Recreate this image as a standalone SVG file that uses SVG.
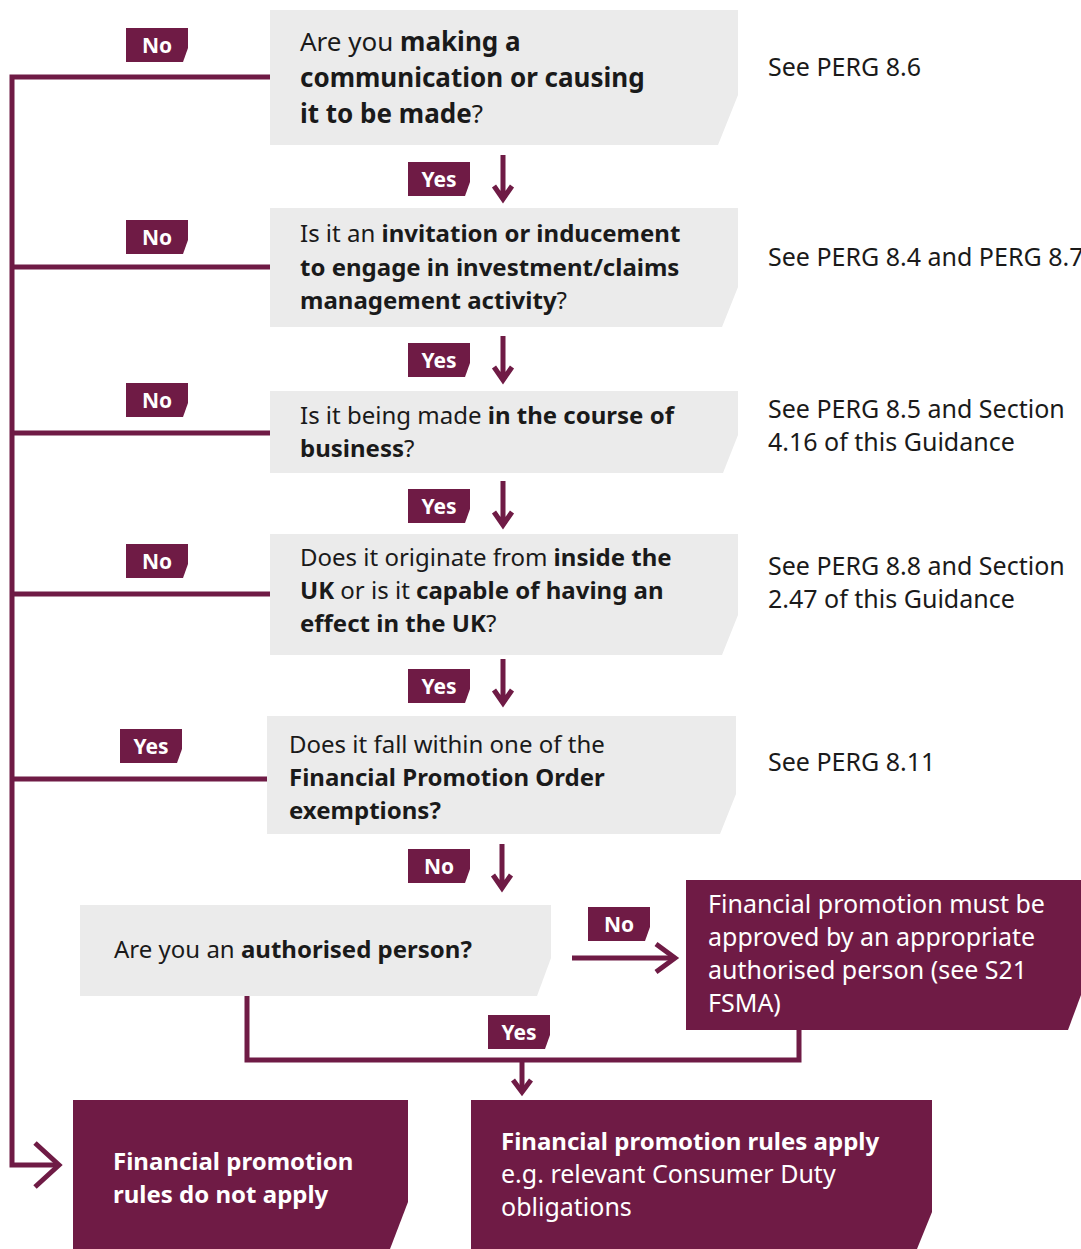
<svg xmlns="http://www.w3.org/2000/svg" width="1081" height="1249" viewBox="0 0 1081 1249">
<style>
.q{fill:#ebebeb}
.m{fill:#6f1b45}
.t{font-family:"Noto Sans","Liberation Sans",sans-serif;font-size:24px;fill:#1a1a1a}
.r{font-family:"Noto Sans","Liberation Sans",sans-serif;font-size:25px;fill:#1a1a1a}
.w{font-family:"Noto Sans","Liberation Sans",sans-serif;font-size:25px;fill:#ffffff}
.wb{font-family:"Noto Sans","Liberation Sans",sans-serif;font-size:24px;font-weight:700;fill:#ffffff}
.b{font-weight:700}
.tag{font-family:"Noto Sans","Liberation Sans",sans-serif;font-size:21px;font-weight:700;fill:#ffffff;text-anchor:middle}
.ln{fill:none;stroke:#6f1b45;stroke-width:5}
.ar{fill:none;stroke:#6f1b45;stroke-width:5}
</style>
<defs>
<path id="tagshape" d="M0,0 H62 V20 L57,34 H0 Z" fill="#6f1b45"/>
<path id="down" d="M0,0 V44 M-9,31 L0,44 L9,31" fill="none" stroke="#6f1b45" stroke-width="5"/>
</defs>
<rect width="1081" height="1249" fill="#ffffff"/>

<g id="connectors">
<path class="ln" d="M270,77 H12 V1165 H58"/>
<path class="ar" d="M35,1143 L59,1165 L35,1187"/>
<path class="ln" d="M12,267 H270"/>
<path class="ln" d="M12,433 H270"/>
<path class="ln" d="M12,594 H270"/>
<path class="ln" d="M12,779 H268"/>
<use href="#down" x="503" y="155"/>
<use href="#down" x="503" y="336"/>
<use href="#down" x="503" y="481"/>
<use href="#down" x="503" y="659"/>
<use href="#down" x="502" y="844"/>
<path class="ln" d="M572,958 H674"/>
<path class="ar" d="M656,944 L675,958 L656,972"/>
<path class="ln" d="M247,996 V1060 H799 V1029"/>
<path class="ln" d="M522,1060 V1092"/>
<path class="ar" d="M513,1080 L522,1092 L531,1080"/>
</g>

<g id="tags">
<use href="#tagshape" x="126" y="28"/><text class="tag" x="157" y="53">No</text>
<use href="#tagshape" x="126" y="220"/><text class="tag" x="157" y="245">No</text>
<use href="#tagshape" x="126" y="383"/><text class="tag" x="157" y="408">No</text>
<use href="#tagshape" x="126" y="544"/><text class="tag" x="157" y="569">No</text>
<use href="#tagshape" x="120" y="729"/><text class="tag" x="151" y="754">Yes</text>
<use href="#tagshape" x="408" y="162"/><text class="tag" x="439" y="187">Yes</text>
<use href="#tagshape" x="408" y="343"/><text class="tag" x="439" y="368">Yes</text>
<use href="#tagshape" x="408" y="489"/><text class="tag" x="439" y="514">Yes</text>
<use href="#tagshape" x="408" y="669"/><text class="tag" x="439" y="694">Yes</text>
<use href="#tagshape" x="408" y="849"/><text class="tag" x="439" y="874">No</text>
<use href="#tagshape" x="588" y="907"/><text class="tag" x="619" y="932">No</text>
<use href="#tagshape" x="488" y="1015"/><text class="tag" x="519" y="1040">Yes</text>
</g>

<g id="q1">
<path class="q" d="M270,10 H738 V95 L718,145 H270 Z"/>
<text class="t" style="font-size:26px" x="300" y="51">Are you <tspan class="b">making a</tspan></text>
<text class="t b" style="font-size:26px" x="300" y="87">communication or causing</text>
<text class="t" style="font-size:26px" x="300" y="123"><tspan class="b">it to be made</tspan>?</text>
</g>
<g id="q2">
<path class="q" d="M270,208 H738 V287 L722,327 H270 Z"/>
<text class="t" x="300" y="242">Is it an <tspan class="b">invitation or inducement</tspan></text>
<text class="t b" x="300" y="276">to engage in investment/claims</text>
<text class="t" x="300" y="309"><tspan class="b">management activity</tspan>?</text>
</g>
<g id="q3">
<path class="q" d="M270,391 H738 V435 L723,473 H270 Z"/>
<text class="t" x="300" y="424">Is it being made <tspan class="b">in the course of</tspan></text>
<text class="t" x="300" y="457"><tspan class="b">business</tspan>?</text>
</g>
<g id="q4">
<path class="q" d="M270,534 H738 V615 L722,655 H270 Z"/>
<text class="t" x="300" y="566">Does it originate from <tspan class="b">inside the</tspan></text>
<text class="t" x="300" y="599"><tspan class="b">UK</tspan> or is it <tspan class="b">capable of having an</tspan></text>
<text class="t" x="300" y="632"><tspan class="b">effect in the UK</tspan>?</text>
</g>
<g id="q5">
<path class="q" d="M267,716 H736 V794 L720,834 H267 Z"/>
<text class="t" x="289" y="753">Does it fall within one of the</text>
<text class="t b" x="289" y="786">Financial Promotion Order</text>
<text class="t b" x="289" y="819">exemptions?</text>
</g>
<g id="q6">
<path class="q" d="M80,905 H551 V958 L537,996 H80 Z"/>
<text class="t" x="114" y="958">Are you an <tspan class="b">authorised person?</tspan></text>
</g>
<g id="r-approved">
<path class="m" d="M686,880 H1081 V995 L1068,1030 H686 Z"/>
<text class="w" x="708" y="913">Financial promotion must be</text>
<text class="w" x="708" y="946">approved by an appropriate</text>
<text class="w" x="708" y="979">authorised person (see S21</text>
<text class="w" x="708" y="1012">FSMA)</text>
</g>
<g id="r-notapply">
<path class="m" d="M73,1100 H408 V1202 L390,1249 H73 Z"/>
<text class="wb" x="113" y="1170">Financial promotion</text>
<text class="wb" x="113" y="1203">rules do not apply</text>
</g>
<g id="r-apply">
<path class="m" d="M471,1100 H932 V1212 L917,1249 H471 Z"/>
<text class="wb" x="501" y="1150">Financial promotion rules apply</text>
<text class="w" x="501" y="1183">e.g. relevant Consumer Duty</text>
<text class="w" x="501" y="1216">obligations</text>
</g>

<g id="refs">
<text class="r" x="768" y="76">See PERG 8.6</text>
<text class="r" x="768" y="266">See PERG 8.4 and PERG 8.7</text>
<text class="r" x="768" y="418">See PERG 8.5 and Section</text>
<text class="r" x="768" y="451">4.16 of this Guidance</text>
<text class="r" x="768" y="575">See PERG 8.8 and Section</text>
<text class="r" x="768" y="608">2.47 of this Guidance</text>
<text class="r" x="768" y="771">See PERG 8.11</text>
</g>
</svg>
